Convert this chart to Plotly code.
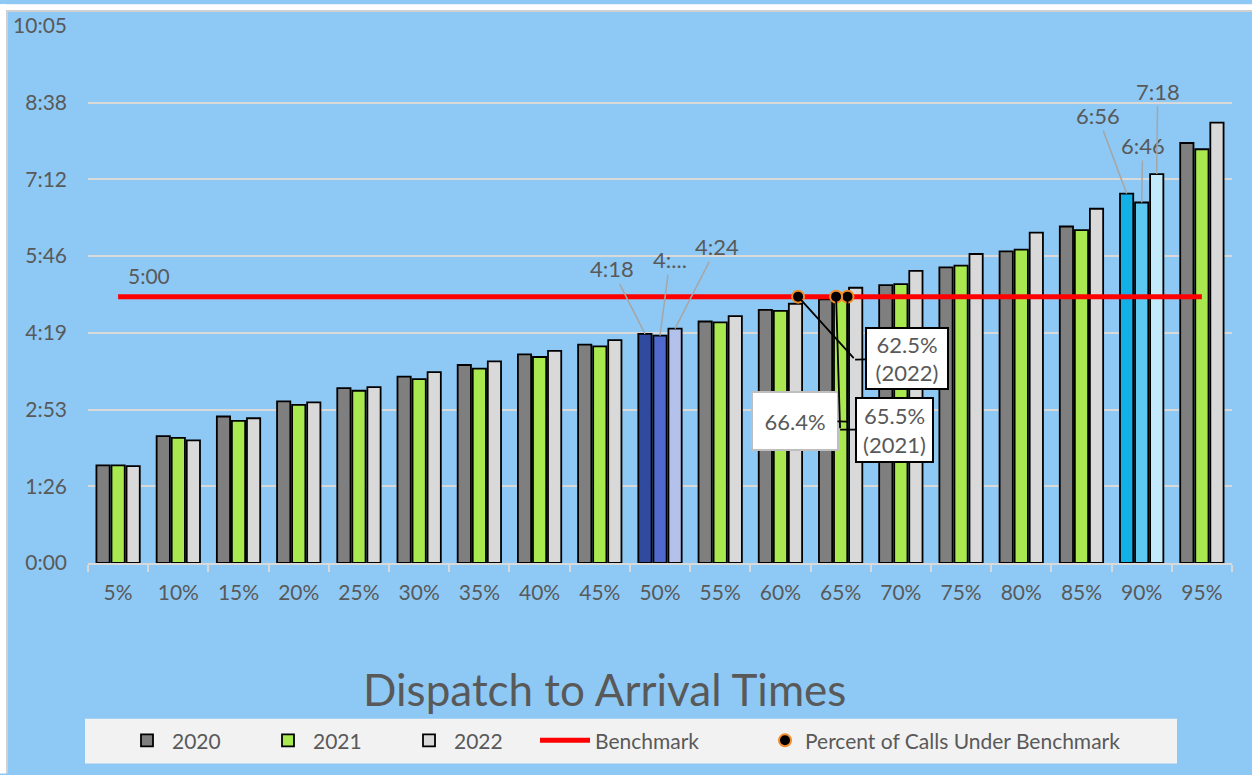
import plotly.graph_objects as go

# Percentile response times (seconds), dispatch to arrival
categories = ["5%", "10%", "15%", "20%", "25%", "30%", "35%", "40%", "45%", "50%",
              "55%", "60%", "65%", "70%", "75%", "80%", "85%", "90%", "95%"]
t2020 = [110, 143, 165, 182, 197, 210, 223, 235, 246, 258, 272, 285, 297, 313, 333, 351, 379, 416, 473]
t2021 = [110, 141, 160, 178, 194, 207, 219, 232, 244, 256, 271, 284, 298, 314, 335, 353, 375, 406, 466]
t2022 = [109, 138, 163, 181, 198, 215, 227, 239, 251, 264, 278, 292, 310, 329, 348, 372, 399, 438, 496]

benchmark = 300  # 5:00
pct_under = [66.4, 65.5, 62.5]          # 2020, 2021, 2022
pct_labels = ["66.4%", "65.5%<br>(2021)", "62.5%<br>(2022)"]

ytick_vals = [0, 86.4, 172.8, 259.2, 345.6, 432.0, 518.4, 604.8]
ytick_text = ["0:00", "1:26", "2:53", "4:19", "5:46", "7:12", "8:38", "10:05"]

base_colors = ["#7F7F7F", "#A9E94F", "#D9D9D9"]
median_colors = ["#2F4A9F", "#4F69CC", "#B4C1EA"]
p90_colors = ["#13B0E8", "#5DC9F1", "#C2EAFA"]

BG = "#8EC9F5"
TXT = "#595959"
FONT = "Lato"

W, H = 1252, 775
ML, MR, MT, MB = 88, 20, 22, 212
PW, PH = W - ML - MR, H - MT - MB


def px(x):
    return (x - ML) / PW


def py(y):
    return (H - MB - y) / PH


def mmss(s):
    s = int(round(s))
    return f"{s // 60}:{s % 60:02d}"


def colors_for(k):
    cols = [base_colors[k]] * len(categories)
    cols[categories.index("50%")] = median_colors[k]
    cols[categories.index("90%")] = p90_colors[k]
    return cols


fig = go.Figure()
for k, (name, vals) in enumerate([("2020", t2020), ("2021", t2021), ("2022", t2022)]):
    fig.add_trace(go.Bar(
        x=categories, y=vals, name=name,
        marker=dict(color=colors_for(k), line=dict(color="#000000", width=1.8)),
        legend="legend",
    ))

fig.add_trace(go.Scatter(
    x=[categories[0], categories[-1]], y=[benchmark, benchmark],
    mode="lines", name="Benchmark",
    line=dict(color="#FF0000", width=5), legend="legend2",
))

fig.add_trace(go.Scatter(
    x=pct_under, y=[benchmark] * 3, xaxis="x2",
    mode="markers", name="Percent of Calls Under Benchmark",
    marker=dict(color="#000000", size=12, line=dict(color="#F28C28", width=2)),
    legend="legend3",
))

annotations = []
# benchmark label
annotations.append(dict(x=categories[0], y=benchmark, xref="x", yref="y", text=mmss(benchmark),
                        showarrow=False, xshift=31, yshift=21,
                        font=dict(family=FONT, size=21, color=TXT)))

# value call-outs for the median and 90th percentile groups
slot = 15
i50 = categories.index("50%")
i90 = categories.index("90%")
callouts = [
    (i50, t2020[i50], -slot, mmss(t2020[i50]), -33, -65),
    (i50, t2021[i50], 0, "4:...", 10, -76),
    (i50, t2022[i50], slot, mmss(t2022[i50]), 42, -82),
    (i90, t2020[i90], -slot, mmss(t2020[i90]), -29, -78),
    (i90, t2021[i90], 0, mmss(t2021[i90]), 1, -57),
    (i90, t2022[i90], slot, mmss(t2022[i90]), 1, -83),
]
for idx, val, dx, label, ax, ay in callouts:
    annotations.append(dict(
        x=categories[idx], y=val, xref="x", yref="y", xshift=dx,
        text=label, showarrow=True, arrowhead=0, arrowwidth=1.5, arrowcolor="#A6A6A6",
        ax=ax, ay=ay, standoff=0,
        font=dict(family=FONT, size=22, color=TXT),
    ))

# percent-under-benchmark call-outs with elbow leader lines
# (elbow dx, elbow dy, box dx from elbow, box dy from elbow, border colour, box w, box h)
pct_boxes = [
    (0, 125, -53, -1, "#BFBFBF", 76, 48),
    (4, 133, 54, 0, "#000000", 67, 54),
    (57, 63, 52, -1, "#000000", 72, 51),
]
for v, lab, (ex, ey, bx, by, bc, bw, bh) in zip(pct_under, pct_labels, pct_boxes):
    # leader segment: marker -> elbow
    annotations.append(dict(
        x=v, y=benchmark, xref="x2", yref="y", text="",
        showarrow=True, arrowhead=0, arrowwidth=1.8, arrowcolor="#000000",
        ax=ex, ay=ey, standoff=0,
    ))
    # label box with leader segment: box -> elbow
    annotations.append(dict(
        x=v, y=benchmark, xref="x2", yref="y", xshift=ex, yshift=-ey, text=lab,
        showarrow=True, arrowhead=0, arrowwidth=1.8, arrowcolor="#000000",
        ax=bx, ay=by, standoff=0, width=bw, height=bh,
        bgcolor="#FFFFFF", bordercolor=bc, borderwidth=2, borderpad=4,
        font=dict(family=FONT, size=22, color=TXT),
    ))

# chart title below the plot
annotations.append(dict(x=px(604), y=py(690), xref="paper", yref="paper",
                        text="Dispatch to Arrival Times", showarrow=False,
                        xanchor="center", yanchor="middle",
                        font=dict(family=FONT, size=44, color=TXT)))

shapes = [
    # legend panel
    dict(type="rect", xref="paper", yref="paper", x0=px(85), x1=px(1177), y0=py(765), y1=py(720),
         fillcolor="#F2F2F2", line=dict(width=0), layer="below"),
    # outer frame strips
    dict(type="rect", xref="paper", yref="paper", x0=px(0), x1=px(6), y0=py(H), y1=py(0),
         fillcolor="#FFFFFF", line=dict(width=0), layer="below"),
    dict(type="rect", xref="paper", yref="paper", x0=px(0), x1=px(W), y0=py(6), y1=py(0),
         fillcolor="#FFFFFF", line=dict(width=0), layer="below"),
    dict(type="rect", xref="paper", yref="paper", x0=px(6), x1=px(8), y0=py(H), y1=py(6),
         fillcolor="#D0D0D0", line=dict(width=0), layer="below"),
    dict(type="rect", xref="paper", yref="paper", x0=px(6), x1=px(W), y0=py(8), y1=py(6),
         fillcolor="#D0D0D0", line=dict(width=0), layer="below"),
]

legend_common = dict(orientation="h", xanchor="left", y=py(742), yanchor="middle",
                     bgcolor="rgba(0,0,0,0)", font=dict(family=FONT, size=21, color=TXT))

fig.update_layout(
    width=W, height=H,
    margin=dict(l=ML, r=MR, t=MT, b=MB),
    paper_bgcolor=BG, plot_bgcolor=BG,
    barmode="group", bargap=0.25, bargroupgap=0.12,
    font=dict(family=FONT, size=21, color=TXT),
    xaxis=dict(type="category", tickson="boundaries", ticks="outside", ticklen=7,
               tickcolor="#D9D9D9", tickwidth=1.5, showline=True, linecolor="#D9D9D9",
               linewidth=1.5, showgrid=False, ticklabelstandoff=10,
               tickfont=dict(family=FONT, size=21, color=TXT)),
    xaxis2=dict(overlaying="x", range=[6.45, 96.75], visible=False),
    yaxis=dict(range=[0, 604.8], tickvals=ytick_vals, ticktext=ytick_text,
               showgrid=True, gridcolor="#D9D9D9", gridwidth=1.5, zeroline=False,
               ticks="", ticklabelstandoff=20, tickfont=dict(family=FONT, size=21, color=TXT)),
    legend=dict(x=px(122), entrywidth=86, entrywidthmode="pixels", itemwidth=40, **legend_common),
    legend2=dict(x=px(535), itemwidth=50, **legend_common),
    legend3=dict(x=px(765), **legend_common),
    annotations=annotations,
    shapes=shapes,
)

fig.write_html("out.html")
